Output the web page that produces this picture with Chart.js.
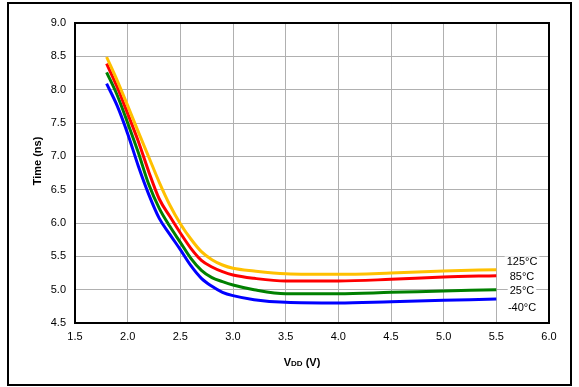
<!DOCTYPE html>
<html>
<head>
<meta charset="utf-8">
<script src="https://cdn.jsdelivr.net/npm/chart.js@4/dist/chart.umd.min.js"></script>
<style>
  html, body { margin: 0; padding: 0; background: #fff; }
  #wrap { width: 579px; height: 387px; position: relative; }
</style>
</head>
<body>
<div id="wrap"><canvas id="c" width="579" height="387"></canvas></div>
<script>
// ---- data ----
const vdd      = [1.8, 1.9, 2.0, 2.1, 2.2, 2.3, 2.4, 2.5, 2.6, 2.7, 2.8, 2.9, 3.0, 3.2, 3.5, 4.0, 4.5, 5.0, 5.5];
const tM40     = [8.09, 7.76, 7.34, 6.86, 6.43, 6.07, 5.83, 5.60, 5.36, 5.17, 5.05, 4.96, 4.91, 4.85, 4.81, 4.80, 4.82, 4.84, 4.86];
const t25      = [8.26, 7.92, 7.50, 7.06, 6.58, 6.22, 5.95, 5.71, 5.47, 5.29, 5.18, 5.12, 5.07, 5.00, 4.94, 4.94, 4.96, 4.98, 5.00];
const t85      = [8.39, 8.04, 7.64, 7.23, 6.77, 6.36, 6.10, 5.85, 5.62, 5.44, 5.34, 5.27, 5.22, 5.17, 5.13, 5.13, 5.155, 5.19, 5.21];
const t125     = [8.49, 8.14, 7.76, 7.37, 6.99, 6.61, 6.27, 5.99, 5.76, 5.57, 5.45, 5.37, 5.32, 5.28, 5.24, 5.23, 5.25, 5.28, 5.30];
const seriesNames = ['125°C', '85°C', '25°C', '-40°C'];
const xTickLabels = ['1.5','2.0','2.5','3.0','3.5','4.0','4.5','5.0','5.5','6.0'];
const yTickLabels = ['4.5','5.0','5.5','6.0','6.5','7.0','7.5','8.0','8.5','9.0'];
const xTitleMain = 'V', xTitleSub = 'DD', xTitleTail = ' (V)';
const yTitle = 'Time (ns)';

const FONT = "'Liberation Sans', Arial, sans-serif";
const colors = ['#FFC000', '#FF0000', '#008000', '#0000FF'];
const seriesVals = [t125, t85, t25, tM40];

const datasets = seriesVals.map((vals, i) => ({
  label: seriesNames[i],
  data: vdd.map((x, k) => ({ x: x, y: vals[k] })),
  borderColor: colors[i],
  backgroundColor: colors[i],
  borderWidth: 3,
  pointRadius: 0,
  cubicInterpolationMode: 'monotone',
  fill: false
}));

const decorPlugin = {
  id: 'decor',
  afterDraw(chart) {
    const ctx = chart.ctx;
    const a = chart.chartArea;
    const ys = chart.scales.y;
    ctx.save();
    // plot frame
    ctx.strokeStyle = '#000';
    ctx.lineWidth = 2;
    ctx.strokeRect(a.left, a.top, a.right - a.left, a.bottom - a.top);
    // outer frame
    ctx.strokeRect(8, 3, 563, 382);

    // series labels at right, with white background
    ctx.font = '11px ' + FONT;
    ctx.textAlign = 'center';
    ctx.textBaseline = 'middle';
    const labelY = [5.41, 5.19, 4.98, 4.72];
    const cx = 522;
    seriesNames.forEach((name, i) => {
      const y = ys.getPixelForValue(labelY[i]);
      const w = ctx.measureText(name).width;
      ctx.fillStyle = '#fff';
      ctx.fillRect(cx - w / 2 - 2, y - 6, w + 4, 12);
      ctx.fillStyle = '#000';
      ctx.fillText(name, cx, y);
    });

    // y title
    ctx.font = 'bold 11px ' + FONT;
    ctx.fillStyle = '#000';
    ctx.translate(38, 161);
    ctx.rotate(-Math.PI / 2);
    ctx.textAlign = 'center';
    ctx.textBaseline = 'middle';
    ctx.fillText(yTitle, 0, 0);
    ctx.setTransform(1, 0, 0, 1, 0, 0);

    // x title with small-caps "DD"
    const big = 'bold 11px ' + FONT, small = 'bold 8px ' + FONT;
    ctx.textBaseline = 'alphabetic';
    ctx.textAlign = 'left';
    ctx.font = big; const w1 = ctx.measureText(xTitleMain).width;
    ctx.font = small; const w2 = ctx.measureText(xTitleSub).width;
    ctx.font = big; const w3 = ctx.measureText(xTitleTail).width;
    let x0 = 302 - (w1 + w2 + w3) / 2;
    const by = 366;
    ctx.font = big; ctx.fillText(xTitleMain, x0, by); x0 += w1;
    ctx.font = small; ctx.fillText(xTitleSub, x0, by); x0 += w2;
    ctx.font = big; ctx.fillText(xTitleTail, x0, by);
    ctx.restore();
  }
};

new Chart(document.getElementById('c'), {
  type: 'line',
  data: { datasets: datasets },
  options: {
    responsive: false,
    animation: false,
    devicePixelRatio: 1,
    layout: { padding: { top: 23, right: 30, left: 0, bottom: 0 } },
    plugins: { legend: { display: false }, tooltip: { enabled: false } },
    scales: {
      x: {
        type: 'linear',
        min: 1.5, max: 6.0,
        afterFit(s) { s.height = 64; },
        afterBuildTicks(s) { s.ticks = xTickLabels.map(t => ({ value: parseFloat(t) })); },
        ticks: {
          padding: 7,
          color: '#000',
          font: { family: FONT, size: 11 },
          callback: (v) => Number(v).toFixed(1),
          maxRotation: 0, autoSkip: false
        },
        grid: { color: '#b0b0b0', lineWidth: 1, drawTicks: false },
        border: { display: true, color: '#000', width: 2 }
      },
      y: {
        type: 'linear',
        min: 4.5, max: 9.0,
        afterFit(s) { s.width = 75; },
        afterBuildTicks(s) { s.ticks = yTickLabels.map(t => ({ value: parseFloat(t) })); },
        ticks: {
          padding: 9,
          color: '#000',
          font: { family: FONT, size: 11 },
          callback: (v) => Number(v).toFixed(1),
          autoSkip: false
        },
        grid: { color: '#b0b0b0', lineWidth: 1, drawTicks: false },
        border: { display: true, color: '#000', width: 2 }
      }
    }
  },
  plugins: [decorPlugin]
});
</script>
</body>
</html>
